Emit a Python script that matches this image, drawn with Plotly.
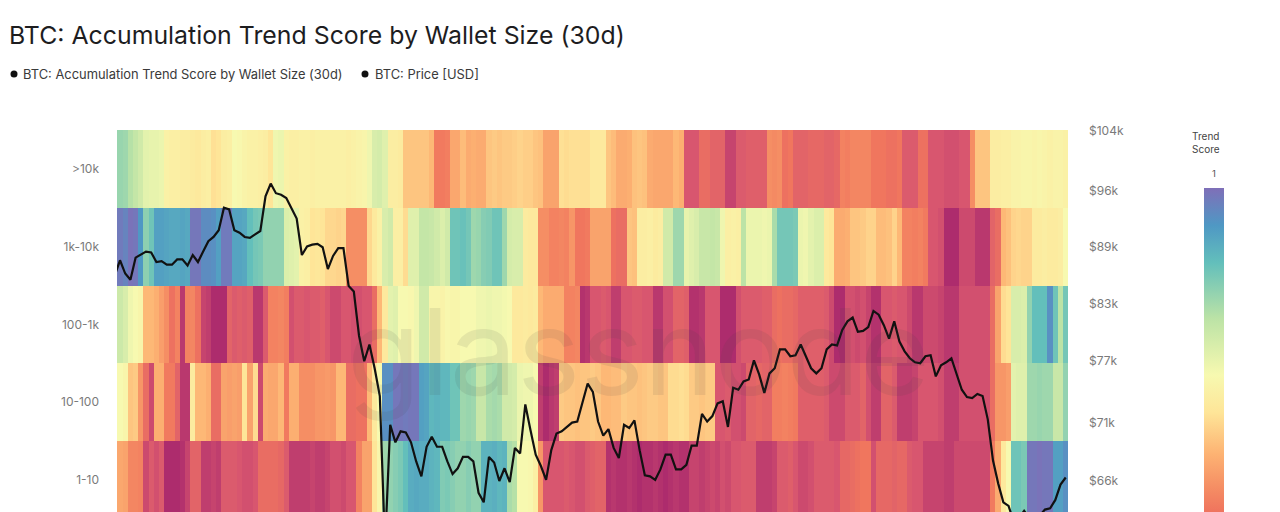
import plotly.graph_objects as go

FONT = "Inter, 'Noto Sans', sans-serif"
W, H = 1280, 512
PLOT_L, PLOT_R, PLOT_T = 117, 1068, 130

wallet_cohorts = [">10k", "1k-10k", "100-1k", "10-100", "1-10"]

# daily BTC price in thousands of USD
price_usd_k = [
    86.1, 87.8, 86.3, 85.6, 88.1, 88.5, 88.8, 88.7, 87.6, 87.7,
    87.3, 87.3, 87.9, 87.9, 87.2, 88.4, 87.6, 88.8, 90.0, 90.5,
    91.3, 94.0, 93.8, 91.3, 91.0, 90.5, 90.4, 90.8, 91.2, 95.4,
    97.0, 95.8, 95.6, 95.2, 94.0, 92.7, 88.4, 89.4, 89.6, 89.7,
    89.3, 86.8, 88.3, 89.2, 89.2, 84.9, 84.3, 79.6, 77.0, 78.7,
    76.3, 73.6, 60.5, 70.9, 69.3, 70.3, 70.2, 69.3, 67.6, 66.3,
    68.9, 69.8, 68.9, 68.9, 67.6, 66.5, 67.0, 68.0, 68.0, 67.6,
    64.9, 64.1, 68.0, 67.5, 65.9, 67.0, 65.8, 68.8, 68.3, 72.8,
    70.4, 68.2, 67.2, 66.0, 68.6, 70.1, 70.3, 70.7, 71.1, 71.2,
    72.9, 74.8, 74.0, 71.2, 69.9, 70.5, 68.8, 67.9, 70.9, 70.6,
    71.3, 68.6, 66.4, 66.3, 66.0, 66.9, 68.2, 68.2, 66.9, 66.9,
    67.3, 69.0, 69.0, 71.9, 71.2, 71.7, 72.9, 73.1, 70.7, 74.4,
    74.2, 75.0, 75.2, 77.1, 75.7, 73.9, 75.8, 76.3, 78.2, 78.2,
    77.5, 77.6, 78.7, 77.5, 76.3, 75.8, 76.3, 78.2, 78.7, 78.6,
    80.2, 81.1, 81.5, 80.0, 80.1, 80.5, 82.2, 81.8, 80.7, 79.3,
    81.1, 79.0, 78.0, 77.3, 76.9, 76.8, 77.5, 77.6, 75.5, 76.6,
    76.9, 77.3, 75.7, 74.2, 73.5, 73.4, 73.8, 73.6, 71.4, 67.7,
    65.7, 64.1, 63.8, 62.5, 62.8, 63.4, 62.8, 62.5, 63.0, 63.5,
    63.6, 64.3, 65.6, 66.2,
]

score_over_10k = [
    .70, .71, .70, .66, .63, .60, .55, .54, .54, .53,
    .46, .45, .45, .44, .44, .43, .42, .44, .45, .39,
    .40, .44, .45, .50, .49, .47, .46, .46, .45, .44,
    .40, .52, .53, .46, .45, .45, .46, .46, .45, .46,
    .46, .46, .46, .46, .46, .45, .46, .47, .48, .52,
    .58, .59, .56, .44, .44, .43, .33, .33, .33, .33,
    .33, .30, .15, .15, .16, .26, .26, .31, .27, .28,
    .27, .27, .33, .34, .33, .34, .34, .35, .36, .35,
    .35, .33, .32, .25, .25, .25, .39, .38, .39, .39,
    .39, .39, .42, .42, .42, .33, .31, .27, .27, .28,
    .32, .33, .32, .27, .26, .26, .26, .26, .30, .28,
    .07, .07, .07, .12, .12, .10, .10, .10, .04, .04,
    .08, .08, .09, .09, .09, .09, .20, .19, .20, .13,
    .14, .10, .10, .10, .11, .11, .11, .10, .10, .11,
    .17, .16, .18, .18, .18, .18, .14, .14, .14, .13,
    .13, .14, .08, .08, .08, .13, .13, .07, .07, .07,
    .06, .06, .06, .07, .07, .20, .33, .33, .33, .44,
    .44, .45, .45, .47, .47, .48, .48, .47, .48, .47,
    .46, .47, .47, .46,
]

score_1k_10k = [
    .97, .97, .95, .99, .98, .90, .73, .78, .88, .88,
    .87, .86, .86, .87, .86, .98, .98, .93, .93, .92,
    .88, .97, .97, .87, .87, .86, .80, .77, .76, .72,
    .72, .72, .72, .57, .56, .55, .46, .45, .40, .41,
    .40, .37, .37, .36, .37, .20, .20, .20, .20, .37,
    .42, .46, .58, .60, .45, .45, .38, .56, .56, .63,
    .63, .62, .60, .57, .60, .78, .78, .79, .77, .70,
    .71, .74, .75, .78, .78, .70, .59, .58, .58, .43,
    .42, .42, .20, .20, .17, .17, .18, .17, .22, .14,
    .14, .15, .25, .25, .25, .25, .13, .12, .12, .33,
    .32, .44, .44, .45, .43, .44, .60, .60, .70, .70,
    .54, .56, .58, .62, .62, .63, .62, .52, .45, .46,
    .45, .65, .53, .53, .53, .52, .53, .68, .77, .77,
    .77, .76, .53, .52, .55, .57, .57, .42, .40, .27,
    .27, .28, .33, .33, .34, .36, .36, .31, .31, .32,
    .36, .30, .17, .17, .16, .17, .15, .07, .07, .06,
    .00, .00, .00, .05, .05, .05, .02, .02, .02, .10,
    .12, .30, .32, .36, .37, .36, .36, .43, .43, .44,
    .43, .43, .44, .50,
]

score_100_1k = [
    .60, .61, .58, .52, .50, .48, .30, .30, .28, .24,
    .20, .13, .17, .02, .17, .18, .13, .04, .03, .00,
    .00, .00, .10, .08, .09, .08, .09, .02, .02, .08,
    .17, .17, .18, .16, .06, .08, .08, .07, .08, .08,
    .09, .07, .05, .05, .07, .07, .06, .06, .07, .07,
    .12, .30, .42, .55, .56, .50, .50, .49, .52, .60,
    .60, .48, .48, .47, .49, .48, .48, .50, .50, .50,
    .52, .52, .53, .52, .52, .51, .50, .42, .42, .43,
    .42, .43, .30, .27, .27, .27, .27, .17, .17, .18,
    .01, .02, .07, .07, .08, .07, .03, .03, .07, .07,
    .08, .08, .07, .07, .02, .02, .06, .06, .10, .10,
    .09, .01, .01, .02, .07, .07, .07, .00, .00, .00,
    .06, .08, .08, .08, .08, .09, .09, .12, .13, .12,
    .12, .11, .09, .09, .09, .09, .09, .08, .05, .00,
    .00, .06, .06, .05, .06, .04, .01, .01, .07, .07,
    .08, .07, .07, .05, .02, .02, .05, .05, .05, .04,
    .02, .02, .02, .06, .06, .06, .06, .06, .06, .12,
    .25, .38, .40, .58, .58, .57, .72, .80, .80, .80,
    .92, .78, .65, .77,
]

score_10_100 = [
    .50, .50, .48, .33, .34, .22, .12, .05, .28, .28,
    .15, .15, .10, .02, .02, .43, .30, .30, .28, .12,
    .12, .25, .24, .25, .24, .40, .25, .38, .05, .27,
    .26, .26, .30, .15, .28, .28, .20, .20, .20, .22,
    .22, .23, .22, .30, .30, .12, .12, .13, .13, .30,
    .42, .50, .92, .92, .98, .98, .97, .98, .98, .88,
    .87, .82, .83, .82, .82, .78, .78, .70, .71, .70,
    .62, .62, .68, .69, .68, .60, .60, .59, .53, .52,
    .52, .50, .03, .00, .02, .03, .34, .33, .33, .32,
    .33, .33, .34, .33, .30, .30, .31, .31, .34, .33,
    .33, .32, .33, .34, .34, .33, .33, .38, .38, .39,
    .38, .34, .34, .33, .34, .34, .07, .07, .08, .06,
    .06, .05, .10, .10, .11, .10, .10, .16, .16, .17,
    .16, .15, .09, .09, .09, .09, .09, .08, .05, .05,
    .05, .08, .08, .08, .10, .06, .03, .03, .10, .10,
    .08, .03, .03, .03, .04, .07, .07, .07, .07, .06,
    .03, .03, .03, .06, .06, .06, .06, .06, .06, .12,
    .22, .22, .24, .55, .56, .56, .70, .70, .71, .70,
    .70, .62, .62, .72,
]

score_1_10 = [
    .27, .26, .25, .18, .18, .17, .05, .08, .06, .08,
    .00, .00, .00, .01, .04, .10, .10, .03, .03, .04,
    .03, .08, .08, .08, .07, .06, .06, .07, .12, .12,
    .12, .12, .11, .08, .03, .03, .03, .03, .04, .03,
    .03, .04, .06, .06, .05, .07, .07, .17, .25, .25,
    .40, .48, .70, .72, .74, .76, .80, .85, .86, .85,
    .85, .83, .82, .75, .76, .74, .72, .72, .74, .72,
    .72, .83, .83, .84, .82, .83, .68, .66, .50, .50,
    .49, .45, .22, .07, .07, .07, .07, .08, .07, .06,
    .06, .08, .09, .10, .10, .01, .02, .01, .01, .02,
    .01, .00, .01, .01, .02, .01, .00, .01, .02, .01,
    .01, .04, .04, .03, .04, .05, .04, .06, .05, .07,
    .07, .08, .08, .08, .03, .03, .03, .04, .08, .08,
    .09, .07, .05, .05, .06, .08, .08, .08, .08, .07,
    .11, .11, .12, .13, .14, .14, .06, .11, .11, .11,
    .10, .11, .11, .08, .07, .07, .04, .04, .04, .04,
    .03, .03, .05, .05, .05, .05, .05, .05, .05, .15,
    .27, .42, .50, .78, .78, .76, .98, .98, .99, .98,
    .98, .88, .88, .92,
]

score_rows = [score_over_10k, score_1k_10k, score_100_1k, score_10_100, score_1_10]
days = list(range(len(price_usd_k)))
assert all(len(row) == len(days) for row in score_rows)

price_ticks = [103.9, 96.1, 89.3, 83.0, 77.0, 71.05, 65.9]
price_tick_labels = ["$104k", "$96k", "$89k", "$83k", "$77k", "$71k", "$66k"]

spectral = [
    [0.00, "#AD2C6D"], [0.07, "#D8566F"], [0.14, "#F0765E"], [0.20, "#F58E64"],
    [0.29, "#FDB373"], [0.40, "#FEE598"], [0.50, "#F7F9B0"], [0.65, "#BCE3A6"],
    [0.80, "#63BFBB"], [0.90, "#4F98C4"], [1.00, "#7F6FB8"],
]


def px(x):
    return (x - PLOT_L) / (PLOT_R - PLOT_L)


def py(y):
    return (H - y) / (H - PLOT_T)


fig = go.Figure()
fig.add_trace(go.Heatmap(
    x=days, y=wallet_cohorts, z=score_rows, zmin=0, zmax=1,
    colorscale=spectral, name="BTC: Accumulation Trend Score by Wallet Size (30d)",
    colorbar=dict(
        x=px(1204), xanchor="left", xpad=0, y=py(188), yanchor="top", ypad=0,
        lenmode="pixels", len=374, thicknessmode="pixels", thickness=20,
        outlinewidth=0, showticklabels=False, ticks="",
    ),
))
fig.add_trace(go.Scatter(
    x=days, y=price_usd_k, yaxis="y2", mode="lines", name="BTC: Price [USD]",
    line=dict(color="#111111", width=2.2), showlegend=False,
))

# bottom of the view sits 4.41 rows below the top edge of the first row
fig.update_layout(
    width=W, height=H, paper_bgcolor="white", plot_bgcolor="white",
    margin=dict(l=PLOT_L, r=W - PLOT_R, t=PLOT_T, b=0, autoexpand=False),
    font=dict(family=FONT),
    title=dict(
        text="BTC: Accumulation Trend Score by Wallet Size (30d)",
        x=9 / W, xanchor="left", y=1 - 35 / H, yanchor="middle",
        font=dict(family=FONT, size=24.85, color="#1d1d1f"),
    ),
    xaxis=dict(visible=False, range=[0.42, 183.44]),
    yaxis=dict(
        type="category", categoryorder="array", categoryarray=wallet_cohorts,
        range=[4.413, -0.5], showgrid=False, zeroline=False, showline=False, ticks="",
        ticklabelstandoff=17, tickfont=dict(family=FONT, size=12, color="#7a7a7a"),
    ),
    yaxis2=dict(
        type="log", overlaying="y", side="right", showgrid=False, zeroline=False,
        range=[1.8014, 2.01703], tickmode="array", tickvals=price_ticks,
        ticktext=price_tick_labels, ticks="", ticklabelstandoff=20,
        tickfont=dict(family=FONT, size=12, color="#7a7a7a"),
    ),
    showlegend=False,
    shapes=[
        dict(type="circle", xref="paper", yref="paper", fillcolor="#111111", line_width=0,
             x0=px(cx - 3.5), x1=px(cx + 3.5), y0=py(74 + 3.5), y1=py(74 - 3.5))
        for cx in (14, 365)
    ],
    annotations=[
        dict(text="BTC: Accumulation Trend Score by Wallet Size (30d)", x=px(21), y=py(74),
             xref="paper", yref="paper", xanchor="left", yanchor="middle", showarrow=False,
             font=dict(family=FONT, size=12.9, color="#3a3a3a")),
        dict(text="BTC: Price [USD]", x=px(373), y=py(74),
             xref="paper", yref="paper", xanchor="left", yanchor="middle", showarrow=False,
             font=dict(family=FONT, size=12.9, color="#3a3a3a")),
        dict(text="Trend<br>Score", x=px(1206), y=py(142),
             xref="paper", yref="paper", xanchor="center", yanchor="middle", showarrow=False,
             font=dict(family=FONT, size=10, color="#444444")),
        dict(text="1", x=px(1214), y=py(173),
             xref="paper", yref="paper", xanchor="center", yanchor="middle", showarrow=False,
             font=dict(family=FONT, size=9.5, color="#555555")),
        dict(text="glassnode", x=px(638), y=py(351),
             xref="paper", yref="paper", xanchor="center", yanchor="middle", showarrow=False,
             font=dict(family=FONT, size=120, color="rgba(70,70,70,0.10)")),
    ],
)

fig.write_html("out.html")
